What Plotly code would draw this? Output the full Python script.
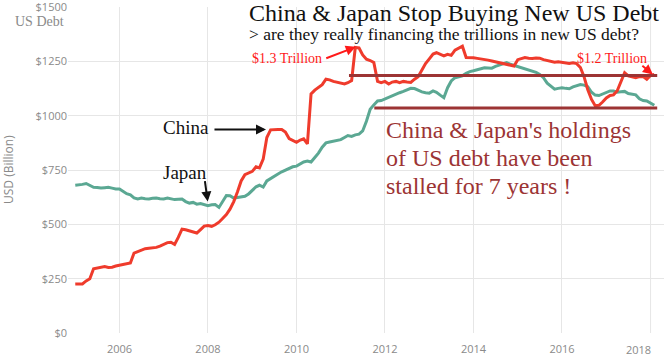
import pandas as pd
import plotly.graph_objects as go

# ---------------- data ----------------
months = pd.date_range("2005-01-01", periods=158, freq="MS")

china = [
    225, 225, 226, 240, 250, 296, 300, 303, 306, 302, 303, 308,          # 2005
    311, 314, 318, 322, 368, 376, 383, 388, 390, 392, 394, 400,          # 2006
    408, 416, 418, 408, 440, 478, 475, 470, 465, 460, 476, 492,          # 2007
    495, 491, 498, 510, 527, 545, 570, 605, 650, 700, 729, 738,          # 2008
    744, 765, 760, 800, 900, 935, 937, 937, 937, 925, 895, 886,          # 2009
    878, 888, 894, 870, 1100, 1118, 1130, 1143, 1168, 1165, 1158, 1153,  # 2010
    1148, 1146, 1152, 1162, 1314, 1312, 1280, 1260, 1254, 1245, 1158, 1152,  # 2011
    1158, 1146, 1155, 1158, 1152, 1158, 1155, 1153, 1168, 1180, 1210, 1240,  # 2012
    1262, 1284, 1290, 1282, 1276, 1283, 1278, 1302, 1310, 1320, 1268, 1268,  # 2013
    1267, 1264, 1262, 1260, 1256, 1252, 1248, 1245, 1240, 1236, 1231, 1229,  # 2014
    1258, 1265, 1268, 1265, 1263, 1266, 1265, 1258, 1254, 1250, 1246, 1248,  # 2015
    1245, 1243, 1241, 1244, 1240, 1222, 1180, 1120, 1075, 1046, 1048, 1063,  # 2016
    1082, 1093, 1096, 1115, 1160, 1198, 1183, 1180, 1175, 1180, 1180, 1168,  # 2017
    1185, 1190,                                                           # 2018
]

japan = [
    680, 681, 684, 688, 678, 671, 670, 667, 669, 671, 667, 663,
    663, 650, 641, 636, 622, 617, 621, 618, 617, 620, 621, 618,
    617, 621, 618, 614, 616, 617, 605, 598, 601, 593, 596, 592,
    586, 590, 591, 578, 605, 633, 632, 621, 624, 627, 629, 640,
    655, 673, 680, 672, 700, 712, 720, 732, 742, 750, 758, 765,
    768, 780, 787, 791, 787, 808, 828, 855, 875, 879, 883, 886,
    890, 900, 909, 905, 912, 915, 930, 975, 1030, 1050, 1068, 1070,
    1078, 1085, 1091, 1098, 1106, 1112, 1119, 1126, 1125, 1116, 1110, 1106,
    1104, 1114, 1108, 1095, 1083, 1129, 1160, 1175, 1180, 1184, 1195, 1203,
    1207, 1212, 1215, 1221, 1220, 1219, 1227, 1232, 1238, 1245, 1237, 1232,
    1227, 1222, 1218, 1212, 1206, 1200, 1190, 1175, 1150, 1135, 1122, 1126,
    1129, 1126, 1124, 1133, 1138, 1144, 1141, 1134, 1108, 1095, 1093, 1101,
    1108, 1114, 1114, 1108, 1110, 1112, 1102, 1098, 1096, 1078, 1070, 1068,
    1058, 1048,
]

y_ticks = [0, 250, 500, 750, 1000, 1250, 1500]
y_tick_labels = ["$0", "$250", "$500", "$750", "$1000", "$1250", "$1500"]
x_ticks = ["2006-01-01", "2008-01-01", "2010-01-01", "2012-01-01",
           "2014-01-01", "2016-01-01", "2018-01-01"]
x_tick_labels = ["2006", "2008", "2010", "2012", "2014", "2016", "2018"]

stall_levels = [1185, 1036]
stall_starts = ["2011-03-10", "2011-10-05"]
stall_end = "2018-02-25"

note_lines = ["China &amp; Japan's holdings", "of US debt have been", "stalled for 7 years !"]

# ---------------- layout helpers ----------------
W, H = 664, 359
L, R, T, B = 68, 664, 7, 333


def px(x, y):
    return (x - L) / (R - L), (B - y) / (B - T)


RED = "#ef3b2c"
GREEN = "#5ba893"
BROWN = "#9c3434"
GREY = "#8a8a8a"
SERIF = "Liberation Serif, Times New Roman, serif"
SANS = "Open Sans, Noto Sans, sans-serif"

fig = go.Figure()
fig.add_trace(go.Scatter(x=months, y=japan, mode="lines", name="Japan",
                         line=dict(color=GREEN, width=3)))
fig.add_trace(go.Scatter(x=months, y=china, mode="lines", name="China",
                         line=dict(color=RED, width=3)))

for lvl, start in zip(stall_levels, stall_starts):
    fig.add_shape(type="line", xref="x", yref="y", x0=start, x1=stall_end,
                  y0=lvl, y1=lvl, line=dict(color=BROWN, width=3))

ann = []


def text(x, y, s, size, color, font=SERIF, xanchor="left", yanchor="middle", **kw):
    xp, yp = px(x, y)
    ann.append(dict(xref="paper", yref="paper", x=xp, y=yp, text=s, showarrow=False,
                    xanchor=xanchor, yanchor=yanchor,
                    font=dict(family=font, size=size, color=color), **kw))


def arrow(xd, yd, ax, ay, color, width=2):
    ann.append(dict(xref="x", yref="y", x=xd, y=yd, ax=ax, ay=ay, text="",
                    showarrow=True, arrowhead=2, arrowsize=1, arrowwidth=width,
                    arrowcolor=color))


text(247, 12.5, "China &amp; Japan Stop Buying New US Debt", 24, "#111")
text(247, 34, "&gt; are they really financing the trillions in new US debt?", 17.5, "#111")
text(250, 59, "$1.3 Trillion", 14, "#ff1a1a")
text(575, 59, "$1.2 Trillion", 14, "#ff1a1a")
text(161, 127, "China", 19, "#111")
text(161, 172, "Japan", 19, "#111")
text(66, 22, "US Debt", 14, GREY, xanchor="right")
for k, line in enumerate(note_lines):
    text(384, 130 + 28 * k, line, 24, BROWN)
text(8, 170, "USD (Billion)", 12, GREY, font=SANS, xanchor="center", textangle=-90)
text(638, 349, "2018", 11, GREY, font=SANS, xanchor="center")

arrow("2009-04-24", 937, -53, 0, "#111")
arrow("2007-12-30", 605, -3, -22, "#111")
arrow("2011-05-05", 1317, -31, 12, "#ff1a1a")
arrow("2018-01-20", 1190, -12, -10, "#ff1a1a")

fig.update_layout(
    width=W, height=H,
    margin=dict(l=L, r=W - R, t=T, b=H - B, autoexpand=False),
    paper_bgcolor="white", plot_bgcolor="white",
    showlegend=False,
    annotations=ann,
    font=dict(family=SANS, size=11, color=GREY),
)
fig.update_xaxes(
    type="date", range=["2004-11-02", "2018-04-22"],
    tickvals=x_ticks[:-1], ticktext=x_tick_labels[:-1],
    showgrid=True, gridcolor="#e6e6e6", gridwidth=1,
    zeroline=False, showline=False, ticks="", automargin=False,
    ticklabelstandoff=8,
    tickfont=dict(family=SANS, size=11, color=GREY),
)
fig.update_yaxes(
    range=[0, 1500.5], tickvals=y_ticks, ticktext=y_tick_labels,
    showgrid=True, gridcolor="#e6e6e6", gridwidth=1,
    zeroline=False, showline=False, ticks="", automargin=False,
    ticklabeloverflow="allow",
    tickfont=dict(family=SANS, size=11, color=GREY),
)
# vertical grid line for 2018 (label placed separately, shifted like the original)
fig.add_shape(type="line", xref="x", yref="paper", x0=x_ticks[-1], x1=x_ticks[-1],
              y0=0, y1=1, line=dict(color="#e6e6e6", width=1), layer="below")

fig.write_html("out.html", config={"displayModeBar": False},
               post_script="document.body.style.margin='0';")
